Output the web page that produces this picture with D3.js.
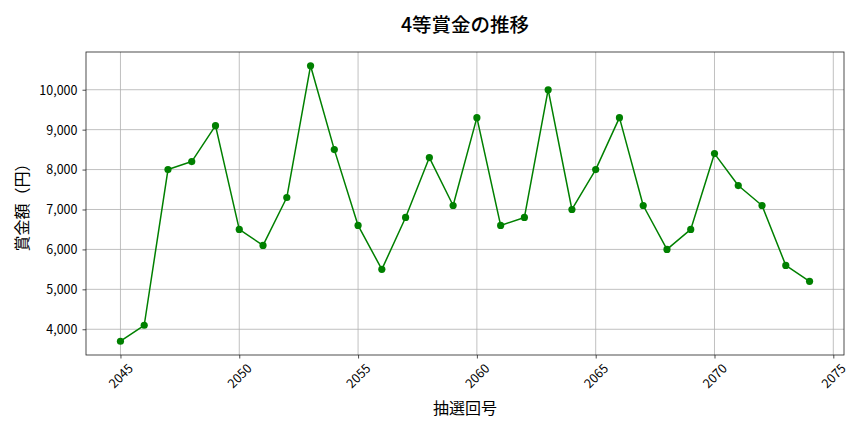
<!DOCTYPE html>
<html lang="ja">
<head>
<meta charset="utf-8">
<script src="https://cdn.jsdelivr.net/npm/d3@7"></script>
<style>
    html, body { margin: 0; padding: 0; background: #ffffff; }
    #chart { width: 864px; height: 432px; }
    text { font-family: "Noto Sans CJK JP", "Noto Sans", sans-serif; fill: #000; }
</style>
</head>
<body>
<div id="chart"></div>
<script>
// ============================================================
//  DATA
// ============================================================

const drawNumbers = d3.range(2045, 2075);   // 2045 .. 2074
const prizeValues = [
    3700, 4100, 8000, 8200, 9100, 6500, 6100, 7300, 10600, 8500,
    6600, 5500, 6800, 8300, 7100, 9300, 6600, 6800, 10000, 7000,
    8000, 9300, 7100, 6000, 6500, 8400, 7600, 7100, 5600, 5200
];
const xTickValues = [2045, 2050, 2055, 2060, 2065, 2070, 2075];
const yTickValues = [4000, 5000, 6000, 7000, 8000, 9000, 10000];

const titleText = "4等賞金の推移";
const xLabelText = "抽選回号";
const yLabelText = "賞金額（円）";

// ============================================================
//  CONFIGURATION
// ============================================================

const CONFIG = {
    WIDTH: 864,
    HEIGHT: 432,
    MARGIN: { TOP: 52, RIGHT: 20, BOTTOM: 77, LEFT: 86 },

    LINE_COLOR: "#008000",
    LINE_WIDTH: 1.5,
    MARKER_R: 3.6,

    GRID_COLOR: "#b0b0b0",
    GRID_WIDTH: 0.8,
    FRAME_COLOR: "#222",
    TICK_SIZE: 3.5,

    TICK_FONT: "12.5px",
    LABEL_FONT: "16px",
    TITLE_FONT: "19.5px",
};

// matplotlib style 5% padding on both axes
const pad = (lo, hi) => { const m = (hi - lo) * 0.05; return [lo - m, hi + m]; };

// ============================================================
//  DRAW
// ============================================================

const data = drawNumbers.map((n, i) => ({ n, v: prizeValues[i] }));

const innerWidth = CONFIG.WIDTH - CONFIG.MARGIN.LEFT - CONFIG.MARGIN.RIGHT;
const innerHeight = CONFIG.HEIGHT - CONFIG.MARGIN.TOP - CONFIG.MARGIN.BOTTOM;

const svg = d3.select("#chart").append("svg")
    .attr("width", CONFIG.WIDTH)
    .attr("height", CONFIG.HEIGHT);

const g = svg.append("g")
    .attr("transform", `translate(${CONFIG.MARGIN.LEFT}, ${CONFIG.MARGIN.TOP})`);

// --- Scales ---
const x = d3.scaleLinear()
    .domain(pad(d3.min(drawNumbers), d3.max(drawNumbers)))
    .range([0, innerWidth]);

const y = d3.scaleLinear()
    .domain(pad(d3.min(prizeValues), d3.max(prizeValues)))
    .range([innerHeight, 0]);

// --- Grid ---
g.append("g")
    .selectAll("line")
    .data(xTickValues)
    .join("line")
    .attr("x1", d => x(d)).attr("x2", d => x(d))
    .attr("y1", 0).attr("y2", innerHeight)
    .attr("stroke", CONFIG.GRID_COLOR)
    .attr("stroke-width", CONFIG.GRID_WIDTH);

g.append("g")
    .selectAll("line")
    .data(yTickValues)
    .join("line")
    .attr("x1", 0).attr("x2", innerWidth)
    .attr("y1", d => y(d)).attr("y2", d => y(d))
    .attr("stroke", CONFIG.GRID_COLOR)
    .attr("stroke-width", CONFIG.GRID_WIDTH);

// --- Axes ---
const xAxis = g.append("g")
    .attr("transform", `translate(0, ${innerHeight})`)
    .call(d3.axisBottom(x).tickValues(xTickValues).tickFormat(d3.format("d"))
        .tickSize(CONFIG.TICK_SIZE).tickSizeOuter(0));
xAxis.select(".domain").remove();
xAxis.selectAll(".tick line").attr("stroke", CONFIG.FRAME_COLOR).attr("stroke-width", 0.8);
// rotated 45°, centred under the tick like matplotlib
xAxis.selectAll(".tick text")
    .attr("y", 0)
    .attr("dy", "0.35em")
    .attr("text-anchor", "middle")
    .attr("transform", "translate(0, 21) rotate(-45)")
    .style("font-size", CONFIG.TICK_FONT);

const yAxis = g.append("g")
    .call(d3.axisLeft(y).tickValues(yTickValues).tickFormat(d3.format(","))
        .tickSize(CONFIG.TICK_SIZE).tickPadding(5).tickSizeOuter(0));
yAxis.select(".domain").remove();
yAxis.selectAll(".tick line").attr("stroke", CONFIG.FRAME_COLOR).attr("stroke-width", 0.8);
yAxis.selectAll(".tick text")
    .attr("dy", "0.35em")
    .style("font-size", CONFIG.TICK_FONT);

// --- Frame ---
g.append("rect")
    .attr("width", innerWidth)
    .attr("height", innerHeight)
    .attr("fill", "none")
    .attr("stroke", CONFIG.FRAME_COLOR)
    .attr("stroke-width", 0.8);

// --- Line + markers ---
g.append("path")
    .datum(data)
    .attr("fill", "none")
    .attr("stroke", CONFIG.LINE_COLOR)
    .attr("stroke-width", CONFIG.LINE_WIDTH)
    .attr("stroke-linejoin", "round")
    .attr("d", d3.line().x(d => x(d.n)).y(d => y(d.v)));

g.append("g")
    .selectAll("circle")
    .data(data)
    .join("circle")
    .attr("cx", d => x(d.n))
    .attr("cy", d => y(d.v))
    .attr("r", CONFIG.MARKER_R)
    .attr("fill", CONFIG.LINE_COLOR);

// --- Labels ---
svg.append("text")
    .attr("x", CONFIG.MARGIN.LEFT + innerWidth / 2)
    .attr("y", 32)
    .attr("text-anchor", "middle")
    .style("font-size", CONFIG.TITLE_FONT)
    .style("font-weight", "500")
    .text(titleText);

svg.append("text")
    .attr("x", CONFIG.MARGIN.LEFT + innerWidth / 2)
    .attr("y", 414)
    .attr("text-anchor", "middle")
    .style("font-size", CONFIG.LABEL_FONT)
    .text(xLabelText);

svg.append("text")
    .attr("transform", `translate(28, ${CONFIG.MARGIN.TOP + innerHeight / 2}) rotate(-90)`)
    .attr("text-anchor", "middle")
    .style("font-size", CONFIG.LABEL_FONT)
    .text(yLabelText);
</script>
</body>
</html>
